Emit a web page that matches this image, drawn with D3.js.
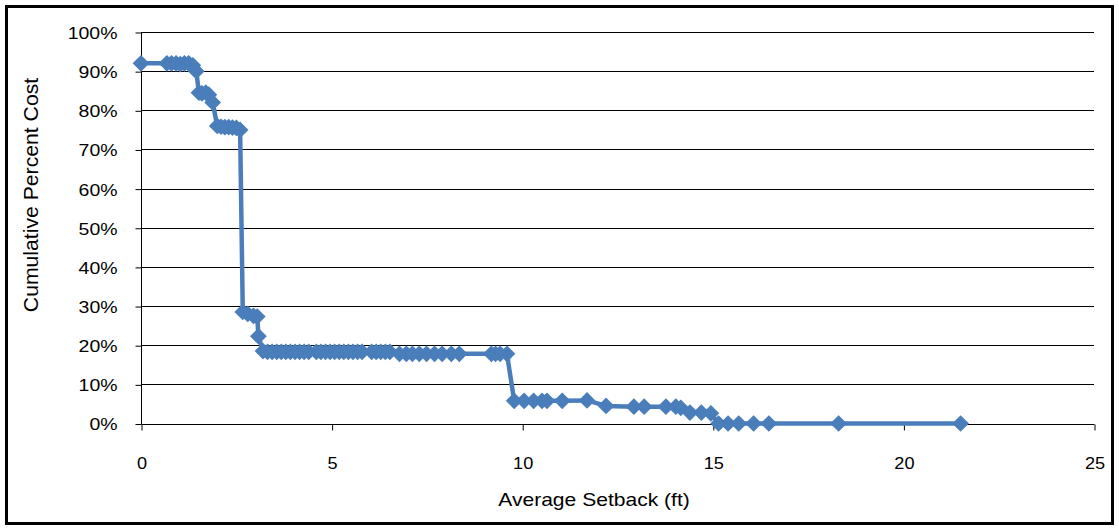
<!DOCTYPE html>
<html>
<head>
<meta charset="utf-8">
<script src="https://cdn.jsdelivr.net/npm/d3@7"></script>
<style>
  html, body { margin: 0; padding: 0; background: #fff; }
  svg { display: block; }
  text { font-family: "Liberation Sans", Arial, sans-serif; fill: #000; }
</style>
</head>
<body>
<script>
// ---- Data ----
const setbackFt = [
  0, 0.68, 0.8, 0.92, 1.03, 1.14, 1.25, 1.36, 1.45,
  1.52, 1.6, 1.7, 1.78, 1.88,
  2.0, 2.1, 2.2, 2.3, 2.4, 2.5, 2.6,
  2.67, 2.8, 2.95, 3.05, 3.08,
  3.2, 3.32, 3.44, 3.56, 3.68, 3.8, 3.92, 4.04, 4.16, 4.28, 4.4,
  4.6, 4.72, 4.84, 4.96, 5.08, 5.2, 5.32, 5.44, 5.56, 5.68, 5.8,
  6.05, 6.17, 6.29, 6.41, 6.53,
  6.78, 6.96, 7.12, 7.3, 7.49, 7.7, 7.9, 8.14, 8.35,
  9.19, 9.3, 9.42, 9.6,
  9.79, 10.05, 10.3, 10.52, 10.65, 11.05, 11.7, 12.2,
  12.93, 13.2, 13.77, 14.03, 14.16, 14.4, 14.7, 14.95,
  15.15, 15.4, 15.68, 16.07, 16.47, 18.3, 21.5
];
const cumulativePct = [
  92, 92, 92, 92, 91.8, 92, 92, 91.5, 90,
  84.5, 84.3, 84.5, 84, 82,
  76, 75.8, 75.7, 75.7, 75.6, 75.5, 75,
  28.5, 28, 27.5, 27.3, 22.3,
  18.5, 18.3, 18.3, 18.3, 18.3, 18.3, 18.3, 18.3, 18.3, 18.3, 18.3,
  18.3, 18.3, 18.3, 18.3, 18.3, 18.3, 18.3, 18.3, 18.3, 18.3, 18.3,
  18.3, 18.3, 18.3, 18.3, 18.3,
  17.8, 17.8, 17.8, 17.8, 17.8, 17.8, 17.8, 17.8, 17.8,
  17.8, 17.8, 17.8, 17.8,
  5.8, 5.8, 5.8, 5.8, 5.8, 5.8, 5.9, 4.5,
  4.3, 4.3, 4.3, 4.3, 4.0, 2.8, 2.8, 2.6,
  0, 0, 0, 0, 0, 0, 0
];
const xTicks = [0, 5, 10, 15, 20, 25];
const yTicks = [0, 10, 20, 30, 40, 50, 60, 70, 80, 90, 100];
const xTitle = "Average Setback (ft)";
const yTitle = "Cumulative Percent Cost";

// ---- Layout ----
const W = 1119, H = 529;
const plot = { left: 141, right: 1094, top: 32, bottom: 423.5 };
const seriesColor = "#4A7EBB";

const svg = d3.select("body").append("svg")
  .attr("width", W).attr("height", H);

svg.append("rect").attr("x", 0).attr("y", 0).attr("width", W).attr("height", H).attr("fill", "#fff");
// outer frame
svg.append("rect")
  .attr("x", 6.5).attr("y", 6.5)
  .attr("width", 1106).attr("height", 517)
  .attr("fill", "none").attr("stroke", "#000").attr("stroke-width", 3);

const x = d3.scaleLinear().domain([0, 25]).range([plot.left, plot.right]);
const y = d3.scaleLinear().domain([0, 100]).range([plot.bottom, plot.top]);

// gridlines
svg.append("g").selectAll("line")
  .data(yTicks.filter(t => t > 0))
  .join("line")
  .attr("x1", plot.left).attr("x2", plot.right)
  .attr("y1", d => Math.round(y(d)) + 0.5).attr("y2", d => Math.round(y(d)) + 0.5)
  .attr("stroke", "#000").attr("stroke-width", 1);

// Y axis
const yAxis = d3.axisLeft(y).tickValues(yTicks).tickSize(6).tickPadding(0)
  .tickFormat(d => d + "%");
const gy = svg.append("g").attr("transform", `translate(${plot.left + 0.5},0.5)`).call(yAxis);
gy.select(".domain").attr("stroke", "#000").attr("d", `M0,${plot.top}V${plot.bottom}`);
gy.selectAll(".tick line").attr("stroke", "#000");
gy.selectAll(".tick text").remove();
gy.selectAll(".tick").append("text")
  .attr("transform", "translate(-24,0) scale(1.18,1)")
  .attr("text-anchor", "end")
  .attr("dy", "0.36em")
  .style("font-size", "16.5px")
  .text(d => d + "%");

// X axis
const xAxis = d3.axisBottom(x).tickValues(xTicks).tickSize(6).tickPadding(0);
const gx = svg.append("g").attr("transform", `translate(0.5,${Math.round(plot.bottom) + 0.5})`).call(xAxis);
gx.select(".domain").attr("stroke", "#000").attr("d", `M${plot.left},0H${plot.right}`);
gx.selectAll(".tick line").attr("stroke", "#000");
gx.selectAll(".tick text").remove();
gx.selectAll(".tick").append("text")
  .attr("transform", "translate(0,44) scale(1.1,1)")
  .attr("text-anchor", "middle")
  .style("font-size", "16.5px")
  .text(d => d);

// Axis titles
svg.append("text")
  .attr("transform", "translate(594,506) scale(1.17,1)")
  .attr("text-anchor", "middle")
  .style("font-size", "18px")
  .text(xTitle);

svg.append("text")
  .attr("transform", "translate(37.5,195) rotate(-90) scale(1.06,1)")
  .attr("text-anchor", "middle")
  .style("font-size", "20px")
  .text(yTitle);

// Series
const data = setbackFt.map((v, i) => ({ x: v, y: cumulativePct[i] }));
const line = d3.line().x(d => x(d.x)).y(d => y(d.y));
svg.append("path")
  .datum(data)
  .attr("d", line)
  .attr("fill", "none")
  .attr("stroke", seriesColor)
  .attr("stroke-width", 4.5)
  .attr("stroke-linejoin", "round");

const diamond = d3.symbol().type(d3.symbolSquare).size(140);
svg.append("g").selectAll("path")
  .data(data)
  .join("path")
  .attr("d", diamond)
  .attr("transform", d => `translate(${x(d.x)},${y(d.y)}) rotate(45)`)
  .attr("fill", seriesColor);
</script>
</body>
</html>
